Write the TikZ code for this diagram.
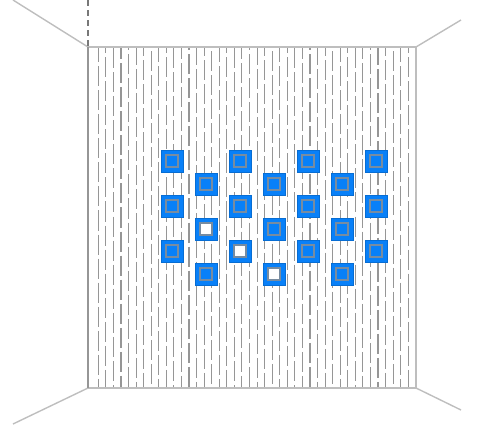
\documentclass[tikz,border=0pt]{standalone}
\usetikzlibrary{positioning}
\definecolor{SeatBlue}{RGB}{8,128,248}
\definecolor{WallGray}{RGB}{150,150,150}
\definecolor{EdgeGray}{RGB}{190,190,190}
\definecolor{InnerGray}{RGB}{120,140,160}

\tikzset{
  seat/.style={fill=SeatBlue,draw=SeatBlue!85!black,line width=0.3pt,
    minimum size=0.44cm,inner sep=0pt,
    path picture={\draw[InnerGray,line width=0.6pt,fill=#1]
      (path picture bounding box.center) ++(-6,-6) rectangle ++(12,12);}},
  seat/.default=SeatBlue,
  stripe/.style={WallGray,line width=0.6pt}
}

\begin{document}
\begin{tikzpicture}[x=0.02cm,y=-0.02cm]
      \useasboundingbox (0,0) rectangle (478,427);
      % room corners
      \coordinate (tl) at (88,47);   \coordinate (tr) at (416,47);
      \coordinate (bl) at (88,388);  \coordinate (br) at (416,388);
      \coordinate (tlo) at (13,0);   \coordinate (tro) at (461,20);
      \coordinate (blo) at (13,424); \coordinate (bro) at (461,410);
      \coordinate (top) at (88,0);
      \draw[EdgeGray,line width=0.8pt] (tlo)--(tl) (tro)--(tr) (blo)--(bl) (bro)--(br);
      \draw[WallGray!80!black,line width=0.6pt,dash pattern=on 3.4pt off 2.3pt] (top)--(tl);
      % back wall stripes
      \foreach \i in {0,...,41}{
        \pgfmathsetmacro\xx{98.3+7.56*\i}
        \pgfmathsetmacro\ph{mod(\i*9+5,24)*0.57}
        \draw[stripe,dash pattern=on 11.4pt off 2.3pt,dash phase=\ph pt]
          (\xx,47)--(\xx,388);
      }
      \draw[EdgeGray,line width=0.8pt] (tl) rectangle (br);
      \draw[WallGray,line width=0.7pt] (tl)--(bl);
      % seats
      \foreach \x/\y/\f [count=\n] in {
          172/161/SeatBlue,172/206/SeatBlue,172/251/SeatBlue,
          206/184/SeatBlue,206/229/white,206/274/SeatBlue,
          240/161/SeatBlue,240/206/SeatBlue,240/251/white,
          274/184/SeatBlue,274/229/SeatBlue,274/274/white,
          308/161/SeatBlue,308/206/SeatBlue,308/251/SeatBlue,
          342/184/SeatBlue,342/229/SeatBlue,342/274/SeatBlue,
          376/161/SeatBlue,376/206/SeatBlue,376/251/SeatBlue}
        \node[seat=\f] (s\n) at (\x,\y) {};
    \end{tikzpicture}
\end{document}
